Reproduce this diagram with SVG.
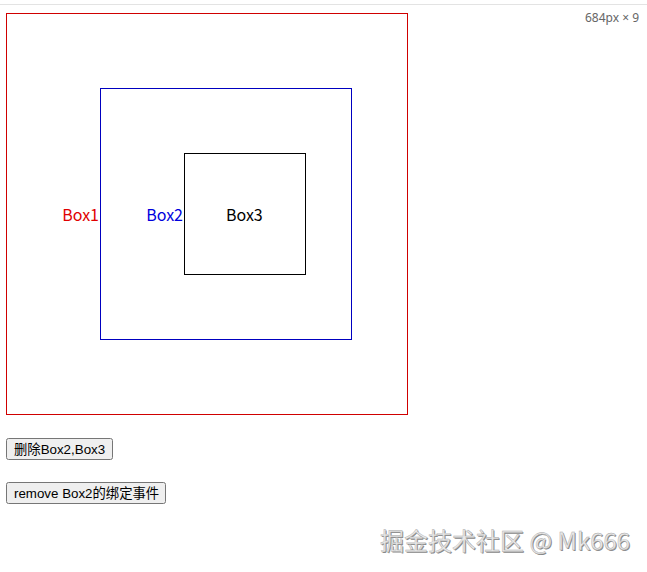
<svg xmlns="http://www.w3.org/2000/svg" width="647" height="572" viewBox="0 0 647 572">
<style>
.lbl{font-family:"Noto Sans CJK SC","Noto Sans",sans-serif;font-size:16px}
.btn rect{fill:#efefef;stroke:#767676;stroke-width:1}
.btn text{font-family:"Liberation Sans","Noto Sans CJK SC",sans-serif;font-size:13.33px;fill:#000}
.wm{font-family:"Noto Sans CJK SC","Noto Sans",sans-serif;font-size:24px}
</style>
<rect width="647" height="572" fill="#fff"/>
<line x1="0" y1="4.5" x2="647" y2="4.5" stroke="#e3e3e3" stroke-width="1"/>
<text x="585" y="22" font-family="'Noto Sans','Liberation Sans',sans-serif" font-size="12" fill="#666">684px × 9</text>
<g id="box1">
<rect x="6.5" y="13.5" width="401" height="401" fill="none" stroke="#d00000" stroke-width="1"/>
<text class="lbl" x="99" y="221" text-anchor="end" fill="#e00000">Box1</text>
</g>
<g id="box2">
<rect x="100.5" y="88.5" width="251" height="251" fill="none" stroke="#0000c0" stroke-width="1"/>
<text class="lbl" x="183" y="221" text-anchor="end" fill="#0000dd">Box2</text>
</g>
<g id="box3">
<rect x="184.5" y="153.5" width="121" height="121" fill="none" stroke="#000" stroke-width="1"/>
<text class="lbl" x="226" y="221" fill="#000">Box3</text>
</g>
<g id="btn1" class="btn">
<rect x="6.5" y="438.5" width="106" height="21" rx="2"/>
<text x="14" y="453.5">删除Box2,Box3</text>
</g>
<g id="btn2" class="btn">
<rect x="6.5" y="482.5" width="159" height="21" rx="2"/>
<text x="14" y="497.5">remove Box2的绑定事件</text>
</g>
<g id="connectors"></g>
<g id="watermark">
<text class="wm" x="381" y="551" fill="#888">掘金技术社区 @ Mk666</text>
<text class="wm" x="380" y="550" fill="#e8e8e8" stroke="#aaa" stroke-width="0.4">掘金技术社区 @ Mk666</text>
</g>
</svg>
